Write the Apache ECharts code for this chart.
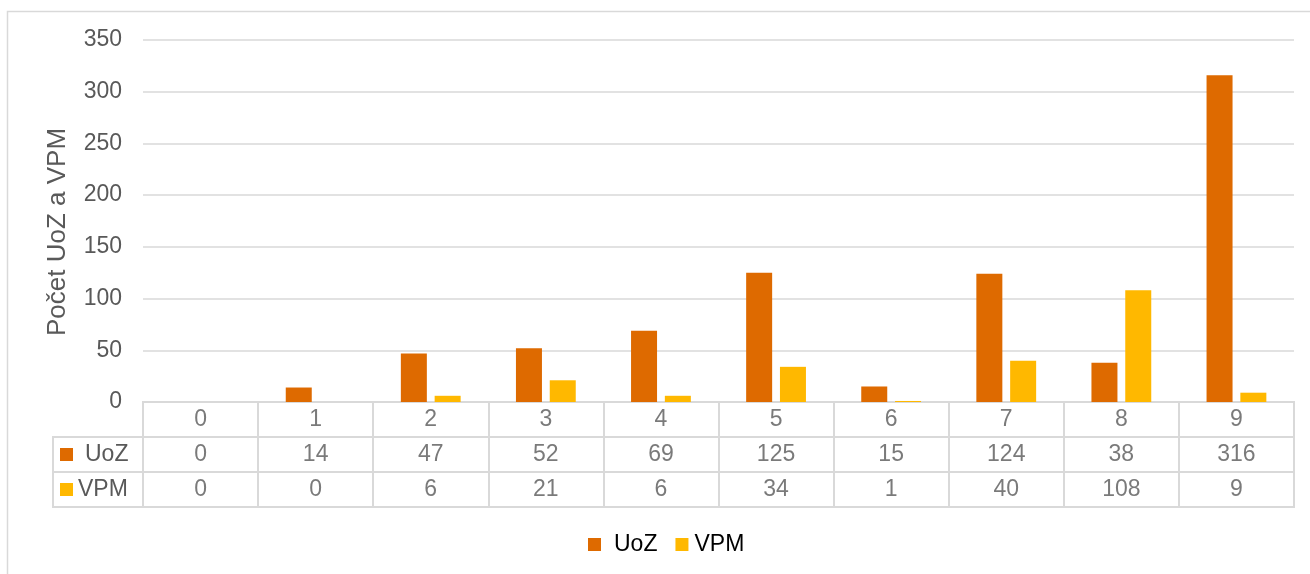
<!DOCTYPE html>
<html>
<head>
<meta charset="utf-8">
<script src="https://cdn.jsdelivr.net/npm/echarts@6/dist/echarts.min.js"></script>
<style>
  html, body { margin: 0; padding: 0; background: #fff; }
  #chart { width: 1310px; height: 574px; }
</style>
</head>
<body>
<div id="chart"></div>
<script>
const categories = ['0', '1', '2', '3', '4', '5', '6', '7', '8', '9'];
const uozValues = [0, 14, 47, 52, 69, 125, 15, 124, 38, 316];
const vpmValues = [0, 0, 6, 21, 6, 34, 1, 40, 108, 9];
const seriesNames = ['UoZ', 'VPM'];
const yTicks = [0, 50, 100, 150, 200, 250, 300, 350];

const colors = ['#DE6A00', '#FFB800'];
const textColor = '#595959';
const lineColor = '#D9D9D9';
const font = 'Liberation Sans, Arial, sans-serif';

const chart = echarts.init(document.getElementById('chart'));

// table cells: row 0 = category label, row 1 = UoZ, row 2 = VPM
const tableCells = [];
categories.forEach((c, i) => {
  tableCells.push([i, 0, c]);
  tableCells.push([i, 1, uozValues[i]]);
  tableCells.push([i, 2, vpmValues[i]]);
});

const option = {
  backgroundColor: '#fff',
  textStyle: { fontFamily: font },
  graphic: [{
    type: 'rect',
    shape: { x: 7.5, y: 11.5, width: 1400, height: 700 },
    style: { fill: 'none', stroke: lineColor, lineWidth: 1.5 },
    silent: true
  }],
  legend: {
    data: [
      { name: seriesNames[0], textStyle: { padding: [0, 0, 0, 8] } },
      { name: seriesNames[1], textStyle: { padding: [0, 0, 0, 1] } }
    ],
    left: 583,
    top: 528,
    icon: 'rect',
    itemWidth: 13,
    itemHeight: 13,
    itemGap: 18,
    textStyle: { fontSize: 23, color: '#000', fontFamily: font }
  },
  grid: [
    { left: 143, right: 16, top: 40, bottom: 172 },
    { left: 143, right: 16, top: 402, height: 105, show: true, borderColor: lineColor, borderWidth: 2 },
    { left: 53, width: 90, top: 437, height: 70, show: true, borderColor: lineColor, borderWidth: 2 }
  ],
  xAxis: [
    {
      gridIndex: 0, type: 'category', data: categories,
      axisLine: { show: false }, axisTick: { show: false }, axisLabel: { show: false }
    },
    {
      gridIndex: 1, type: 'category', data: categories,
      axisLine: { show: false }, axisTick: { show: false }, axisLabel: { show: false },
      splitLine: { show: true, lineStyle: { color: lineColor, width: 2 } }
    },
    {
      gridIndex: 2, type: 'value', min: 0, max: 1, show: false
    }
  ],
  yAxis: [
    {
      gridIndex: 0, type: 'value', min: 0, max: 350, interval: 50,
      name: 'Počet UoZ a VPM',
      nameLocation: 'middle',
      nameGap: 72,
      nameTextStyle: { fontSize: 26, color: textColor, padding: [0, 22, 0, 0] },
      axisLine: { show: false }, axisTick: { show: false },
      axisLabel: { fontSize: 23, color: textColor, margin: 21 },
      splitLine: { lineStyle: { color: lineColor, width: 1.5 } }
    },
    {
      gridIndex: 1, type: 'category', data: ['cat', 'UoZ', 'VPM'], inverse: true,
      axisLine: { show: false }, axisTick: { show: false }, axisLabel: { show: false },
      splitLine: { show: true, lineStyle: { color: lineColor, width: 2 } }
    },
    {
      gridIndex: 2, type: 'category', data: seriesNames, inverse: true,
      axisLine: { show: false }, axisTick: { show: false },
      splitLine: { show: true, lineStyle: { color: lineColor, width: 2 } },
      axisLabel: {
        inside: true,
        margin: 7,
        formatter: (v, i) => '{s' + i + '|}{t' + i + '|' + v + '}',
        rich: {
          s0: { width: 13, height: 13, backgroundColor: colors[0] },
          s1: { width: 13, height: 13, backgroundColor: colors[1] },
          t0: { fontSize: 23, color: textColor, padding: [0, 0, 0, 12], fontFamily: font },
          t1: { fontSize: 23, color: textColor, padding: [0, 0, 0, 5], fontFamily: font }
        }
      }
    }
  ],
  series: [
    {
      name: seriesNames[0], type: 'bar', xAxisIndex: 0, yAxisIndex: 0,
      data: uozValues, barWidth: 26, barGap: '30%',
      itemStyle: { color: colors[0] }
    },
    {
      name: seriesNames[1], type: 'bar', xAxisIndex: 0, yAxisIndex: 0,
      data: vpmValues, barWidth: 26, barGap: '30%',
      itemStyle: { color: colors[1] }
    },
    {
      type: 'scatter', xAxisIndex: 1, yAxisIndex: 1,
      data: tableCells,
      symbolSize: 1,
      itemStyle: { color: 'transparent' },
      silent: true,
      label: {
        show: true, position: 'inside',
        formatter: p => String(p.value[2]),
        fontSize: 23, color: textColor, fontFamily: font
      }
    }
  ]
};

chart.setOption(option);
</script>
</body>
</html>
